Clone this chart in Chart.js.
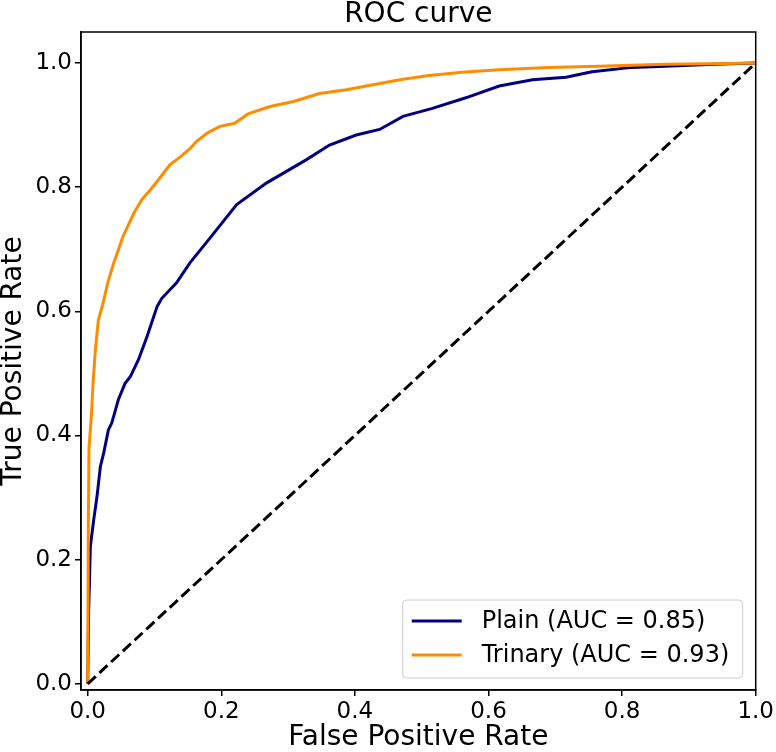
<!DOCTYPE html>
<html>
<head>
<meta charset="utf-8">
<script src="https://cdn.jsdelivr.net/npm/chart.js@4/dist/chart.umd.min.js"></script>
<style>
    body { margin: 0; background: #fff; }
    #wrap { width: 776px; height: 752px; }
</style>
</head>
<body>
<div id="wrap"><canvas id="chart" width="776" height="752"></canvas></div>
<script>
// values
const plainFpr = [0, 0.0015, 0.0025, 0.004, 0.009, 0.014, 0.019, 0.024, 0.031, 0.036, 0.046, 0.056, 0.064, 0.076, 0.089, 0.104, 0.111, 0.133, 0.153, 0.183, 0.223, 0.268, 0.327, 0.362, 0.402, 0.437, 0.472, 0.516, 0.566, 0.616, 0.666, 0.716, 0.755, 0.815, 0.865, 0.939, 1.0];
const plainTpr = [0, 0.12, 0.157, 0.221, 0.264, 0.302, 0.350, 0.372, 0.409, 0.420, 0.458, 0.484, 0.495, 0.522, 0.560, 0.608, 0.621, 0.646, 0.678, 0.718, 0.772, 0.807, 0.844, 0.868, 0.884, 0.893, 0.914, 0.927, 0.944, 0.963, 0.973, 0.977, 0.986, 0.993, 0.995, 0.998, 1.0];

const trinaryFpr = [0, 0.001, 0.002, 0.0055, 0.008, 0.0115, 0.016, 0.023, 0.030, 0.039, 0.053, 0.069, 0.081, 0.094, 0.106, 0.123, 0.140, 0.153, 0.163, 0.180, 0.198, 0.220, 0.240, 0.273, 0.308, 0.347, 0.387, 0.437, 0.472, 0.511, 0.560, 0.616, 0.690, 0.765, 0.865, 0.930, 1.0];
const trinaryTpr = [0, 0.26, 0.38, 0.431, 0.484, 0.538, 0.586, 0.613, 0.646, 0.678, 0.721, 0.758, 0.780, 0.796, 0.812, 0.836, 0.850, 0.862, 0.874, 0.888, 0.898, 0.903, 0.918, 0.930, 0.938, 0.951, 0.957, 0.967, 0.974, 0.980, 0.985, 0.989, 0.993, 0.995, 0.998, 0.999, 1.0];

const chanceFpr = [0, 1];
const chanceTpr = [0, 1];

const xTicks = [0, 0.2, 0.4, 0.6, 0.8, 1.0];
const yTicks = [0, 0.2, 0.4, 0.6, 0.8, 1.0];

const labels = ['Plain (AUC = 0.85)', 'Trinary (AUC = 0.93)'];
const titleText = 'ROC curve';

const toPoints = (xs, ys) => xs.map((x, i) => ({ x: x, y: ys[i] }));

const FONT = "'DejaVu Sans', sans-serif";
Chart.defaults.color = '#000';
Chart.defaults.font.family = FONT;

// title centred over the axes, like matplotlib does
const titlePlugin = {
    id: 'axesTitle',
    afterDraw(chart) {
        const { ctx, chartArea } = chart;
        ctx.save();
        ctx.font = '28px ' + FONT;
        ctx.fillStyle = '#000';
        ctx.textAlign = 'center';
        ctx.textBaseline = 'middle';
        ctx.fillText(titleText, (chartArea.left + chartArea.right) / 2, 15);
        ctx.restore();
    }
};

// box round the plot + legend in the lower right corner
const framePlugin = {
    id: 'frame',
    afterDatasetsDraw(chart) {
        const { ctx, chartArea } = chart;
        ctx.save();
        ctx.strokeStyle = '#000';
        ctx.lineWidth = 1.5;
        ctx.strokeRect(chartArea.left, chartArea.top, chartArea.right - chartArea.left, chartArea.bottom - chartArea.top);
        ctx.restore();
    },
    afterDraw(chart) {
        const { ctx, chartArea } = chart;
        const w = 340, h = 78;
        const x0 = chartArea.right - 13 - w;
        const y0 = chartArea.bottom - 12 - h;
        ctx.save();
        ctx.beginPath();
        ctx.roundRect(x0, y0, w, h, 4);
        ctx.fillStyle = 'rgba(255,255,255,0.8)';
        ctx.fill();
        ctx.strokeStyle = '#cccccc';
        ctx.lineWidth = 1;
        ctx.stroke();

        ctx.font = '24px ' + FONT;
        ctx.textAlign = 'left';
        ctx.textBaseline = 'middle';
        const rows = [chart.data.datasets[0], chart.data.datasets[1]];
        rows.forEach((ds, i) => {
            const yy = y0 + 21 + i * 34;
            ctx.strokeStyle = ds.borderColor;
            ctx.lineWidth = 3;
            ctx.beginPath();
            ctx.moveTo(x0 + 9, yy);
            ctx.lineTo(x0 + 59, yy);
            ctx.stroke();
            ctx.fillStyle = '#000';
            ctx.fillText(ds.label, x0 + 79, yy + 1);
        });
        ctx.restore();
    }
};

const ctx = document.getElementById('chart');

const chart = new Chart(ctx, {
    type: 'line',
    data: {
        datasets: [
            {
                label: labels[0],
                data: toPoints(plainFpr, plainTpr),
                borderColor: '#000080',
                borderWidth: 3,
                pointRadius: 0,
                fill: false,
                order: 2
            },
            {
                label: labels[1],
                data: toPoints(trinaryFpr, trinaryTpr),
                borderColor: '#ff8c00',
                borderWidth: 3,
                pointRadius: 0,
                fill: false,
                order: 1
            },
            {
                label: 'chance',
                data: toPoints(chanceFpr, chanceTpr),
                borderColor: '#000',
                borderWidth: 3,
                borderDash: [11, 5],
                pointRadius: 0,
                fill: false,
                order: 0
            }
        ]
    },
    options: {
        responsive: false,
        animation: false,
        layout: {
            padding: { top: 32, right: 19, left: 0, bottom: 0 }
        },
        plugins: {
            legend: { display: false },
            tooltip: { enabled: false },
            title: { display: false }
        },
        scales: {
            x: {
                type: 'linear',
                min: -0.01,
                max: 1.0,
                afterBuildTicks: (scale) => { scale.ticks = xTicks.map(v => ({ value: v })); },
                afterFit: (scale) => { scale.height = 62; },
                ticks: {
                    font: { size: 23 },
                    padding: 2,
                    maxRotation: 0,
                    callback: (v) => v.toFixed(1)
                },
                grid: {
                    drawOnChartArea: false,
                    drawTicks: true,
                    tickLength: 6,
                    color: '#000',
                    lineWidth: 1.5
                },
                border: { color: '#000', width: 1.5 },
                title: {
                    display: true,
                    text: 'False Positive Rate',
                    font: { size: 28, lineHeight: 1 },
                    padding: { top: 0, bottom: 0 }
                }
            },
            y: {
                type: 'linear',
                min: -0.01,
                max: 1.05,
                afterBuildTicks: (scale) => { scale.ticks = yTicks.map(v => ({ value: v })); },
                afterFit: (scale) => { scale.width = 81; },
                ticks: {
                    font: { size: 23 },
                    padding: 3,
                    callback: (v) => v.toFixed(1)
                },
                grid: {
                    drawOnChartArea: false,
                    drawTicks: true,
                    tickLength: 6,
                    color: '#000',
                    lineWidth: 1.5
                },
                border: { color: '#000', width: 1.5 },
                title: {
                    display: true,
                    text: 'True Positive Rate',
                    font: { size: 28, lineHeight: 1 },
                    padding: { top: 0, bottom: 0 }
                }
            }
        }
    },
    plugins: [titlePlugin, framePlugin]
});
</script>
</body>
</html>
